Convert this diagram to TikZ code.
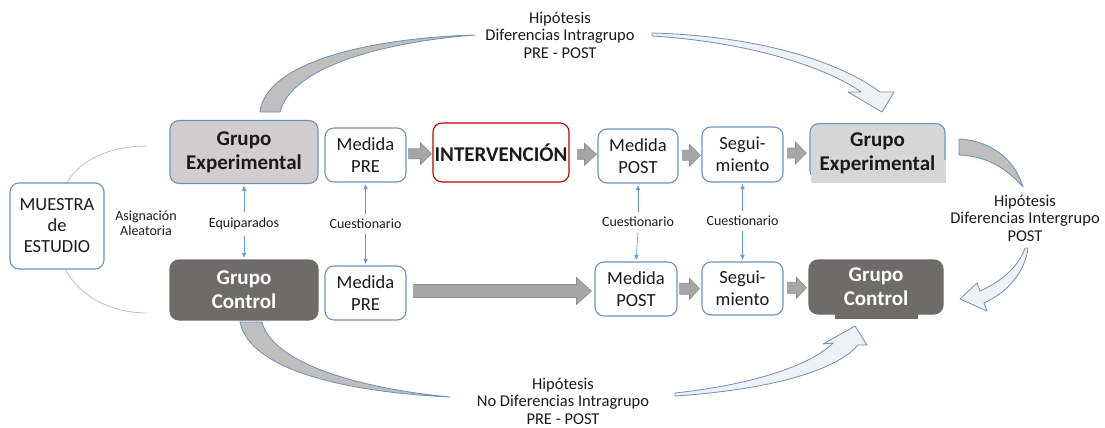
\documentclass[tikz,border=0pt]{standalone}
\usepackage{fontspec}
\setmainfont{Carlito}
\usetikzlibrary{calc,arrows.meta}
\definecolor{bordb}{HTML}{6E93BA}
\definecolor{gefill}{HTML}{D0CECE}
\definecolor{gerfill}{HTML}{D6D6D6}
\definecolor{gcfill}{HTML}{6F6B69}
\definecolor{arrfill}{HTML}{A6A6A6}
\definecolor{arrdraw}{HTML}{8C8C8C}
\definecolor{cG}{HTML}{BFBFBF}
\definecolor{cL}{HTML}{EEF1F5}
\definecolor{cB}{HTML}{6F8FB0}
\definecolor{thinb}{HTML}{5B9BD5}
\definecolor{arcb}{HTML}{A9C4E0}
\definecolor{redb}{HTML}{C00000}
\definecolor{txt}{HTML}{1A1A1A}
\newcommand{\myfs}[2]{\fontsize{#1}{#2}\selectfont}
% from node, to node, gap from, gap to, shaft half height, head half height, head length
\newcommand{\fatarr}[7]{%
  \path[fatarrow] let \p1=(#1.east), \p2=(#2.west), \p3=($(#1.east)!.5!(#2.west)$) in
  (\x1+#3,\y3+#5) -- (\x2-#4-#7,\y3+#5) -- (\x2-#4-#7,\y3+#6) -- (\x2-#4,\y3)
  -- (\x2-#4-#7,\y3-#6) -- (\x2-#4-#7,\y3-#5) -- (\x1+#3,\y3-#5) -- cycle;}
\tikzset{
  box/.style={draw=bordb, line width=1.1pt, rounded corners=9pt, fill=white, align=center,
    inner sep=0pt, text=txt, font=\myfs{18.5}{22}},
  gebox/.style={box, fill=gefill, font=\bfseries\myfs{21}{24}},
  gcbox/.style={box, fill=gcfill, draw=gcfill, text=white, font=\bfseries\myfs{21}{24}},
  intbox/.style={box, draw=redb, font=\bfseries\myfs{21}{24}},
  small/.style={text=txt, font=\myfs{14}{15}, align=center},
  hyp/.style={text=txt, font=\myfs{16.5}{17.5}, align=center},
  fatarrow/.style={fill=arrfill, draw=arrdraw, line width=0.6pt},
  thinarr/.style={draw=thinb, line width=0.6pt, -{Latex[length=5pt,width=4.5pt]},
    shorten <=2pt, shorten >=1.5pt},
  arcline/.style={draw=arcb, line width=0.8pt},
  curveG/.style={fill=cG, draw=cB, line width=0.8pt, line join=round},
  curveL/.style={fill=cL, draw=cB, line width=0.8pt, line join=round},
}
\begin{document}
\begin{tikzpicture}[x=1pt, y=-1pt]
\useasboundingbox (0,0) rectangle (1105,428);
\fill[white] (0,0) rectangle (1105,428);

% thin arcs from the sample to both groups
\coordinate (arcT) at (147,146);
\coordinate (arcB) at (147,313);
\draw[arcline] (arcT) .. controls (110,146) and (75,160) .. (62,192);
\draw[arcline] (62,262) .. controls (75,295) and (110,313) .. (arcB);

% big curved arrows
\draw[curveG] (260,112) .. controls (266,62) and (370,38) .. (475,35)
  .. controls (385,42) and (292,66) .. (280,112) -- cycle;
\draw[curveL] (652,33) .. controls (760,36) and (840,62) .. (880,92) -- (894,92) -- (882,112)
  -- (848,92) -- (861,92) .. controls (828,68) and (750,42) .. (652,36) -- cycle;
\draw[curveG] (959,139) .. controls (995,141) and (1016,163) .. (1023,187)
  .. controls (1008,170) and (988,156) .. (959,155) -- cycle;
\draw[curveL] (1028,248) .. controls (1025,272) and (1008,292) .. (984,303) -- (987,311)
  -- (960,299) -- (977,283) -- (980,291) .. controls (1000,282) and (1018,268) .. (1025,248) -- cycle;
\draw[curveG] (240,322) .. controls (250,370) and (345,392) .. (450,397)
  .. controls (355,388) and (272,362) .. (262,322) -- cycle;
\draw[curveL] (675,396) .. controls (765,390) and (835,372) .. (858,345) -- (867,345)
  -- (855,326) -- (823,344) -- (833,343) .. controls (810,366) and (750,385) .. (675,393) -- cycle;

% hypothesis labels
\node[hyp] (hypTop) at (560,35) {Hipótesis\\Diferencias Intragrupo\\PRE - POST};
\node[hyp] (hypBot) at (563,401) {Hipótesis\\No Diferencias Intragrupo\\PRE - POST};
\node[hyp] (hypRight) at (1025,218) {Hipótesis\\Diferencias Intergrupo\\POST};

% boxes
\node[box, minimum width=94pt, minimum height=86pt, font=\myfs{18.5}{21}] (mue) at (57,226) {MUESTRA\\de\\ESTUDIO};
\node[gebox, minimum width=148pt, minimum height=63pt] (geL) at (244,152) {Grupo\\Experimental};
\node[gcbox, minimum width=148pt, minimum height=60pt] (gcL) at (244,290) {Grupo\\Control};
\node[box, minimum width=81pt, minimum height=54pt] (preT) at (365.5,155) {Medida\\PRE};
\node[box, minimum width=81pt, minimum height=54pt] (preB) at (365.5,293) {Medida\\PRE};
\node[intbox, minimum width=136pt, minimum height=59pt] (int) at (501,152.5) {INTERVENCIÓN};
\node[box, minimum width=80pt, minimum height=54pt] (postT) at (638,156) {Medida\\POST};
\node[box, minimum width=81pt, minimum height=55pt] (segT) at (742.5,154.5) {Segui-\\miento};
\node[box, minimum width=82pt, minimum height=54pt] (postB) at (636,289) {Medida\\POST};
\node[box, minimum width=81pt, minimum height=53pt] (segB) at (742.5,288.5) {Segui-\\miento};
\node[gebox, fill=gerfill, minimum width=135pt, minimum height=56pt, anchor=north] (geR) at (877.5,123) {};
\fill[gerfill] (811.2,160) rectangle (945.5,183);
\node[text=txt, font=\bfseries\myfs{21}{24}, align=center] (geRt) at (877.5,153) {Grupo\\Experimental};
\fill[gcfill] (835,300) rectangle (918,319);
\node[gcbox, minimum width=134pt, minimum height=54pt] (gcR) at (876,287) {Grupo\\Control};

% small labels
\node[small] (asig) at (146,223) {Asignación\\Aleatoria};
\node[small] (eq) at (244,224) {Equiparados};
\node[small] (c1) at (365.5,224) {Cuestionario};
\node[small] (c2) at (638,222) {Cuestionario};
\node[small] (c3) at (742.5,221) {Cuestionario};

% thin blue arrows
\draw[thinarr] (eq.north) -- (geL.south);
\draw[thinarr] (eq.south) -- (gcL.north);
\draw[thinarr] (c1.north) -- (preT.south);
\draw[thinarr] (c1.south) -- (preB.north);
\draw[thinarr] (c2.north) -- (postT.south);
\draw[thinarr] (c2.south) -- (postB.north);
\draw[thinarr] (c3.north) -- (segT.south);
\draw[thinarr] (c3.south) -- (segB.north);

% block arrows
\fatarr{preT}{int}{2pt}{1pt}{5pt}{11pt}{11pt}
\fatarr{int}{postT}{8pt}{1pt}{5pt}{11pt}{12pt}
\fatarr{postT}{segT}{4pt}{1pt}{5pt}{11pt}{11pt}
\fatarr{segT}{geR}{4pt}{3pt}{5pt}{11pt}{11pt}
\fatarr{preB}{postB}{7pt}{3pt}{6.5pt}{13.5pt}{15pt}
\fatarr{postB}{segB}{2pt}{2pt}{5.5pt}{10.5pt}{10pt}
\fatarr{segB}{gcR}{4pt}{2pt}{5.5pt}{10.5pt}{10pt}
\end{tikzpicture}
\end{document}
